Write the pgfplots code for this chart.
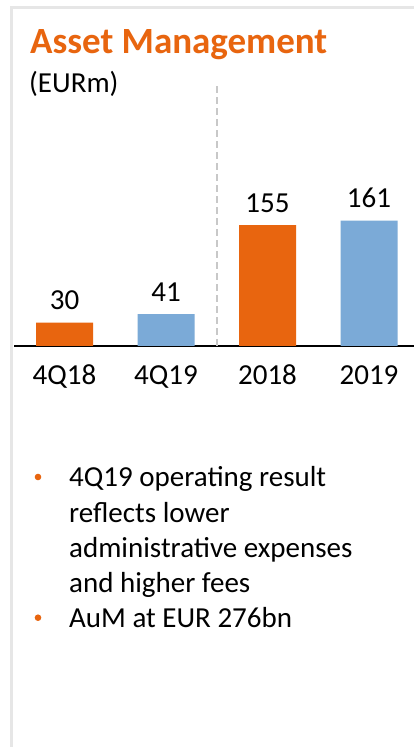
\documentclass[border=0pt]{standalone}
\usepackage{fontspec}
\setmainfont{Carlito}
\usepackage{pgfplots}
\pgfplotsset{compat=1.18}

\definecolor{amorange}{HTML}{E8650F}
\definecolor{amblue}{HTML}{7BAAD7}
\definecolor{framegray}{HTML}{E6E6E6}
\definecolor{dashgray}{HTML}{C8C8C8}

\newcommand{\bodyfont}{\fontsize{29bp}{35bp}\selectfont}

\begin{document}
\begin{tikzpicture}
\useasboundingbox (0,0) rectangle (414bp,747bp);
\fill[white] (0,0) rectangle (414bp,747bp);
% panel frame
\draw[framegray, line width=3bp] (11.5bp,0bp) -- (11.5bp,739.5bp) -- (414bp,739.5bp);

% heading
\node[anchor=base west, inner sep=0, text=amorange,
      font=\fontsize{37bp}{44bp}\selectfont\bfseries] at (30bp,693.5bp) {Asset Management};
\node[anchor=base west, inner sep=0, font=\bodyfont] at (29bp,654.3bp) {(EURm)};

\begin{axis}[
    at={(14bp,401bp)}, anchor=south west,
    scale only axis, width=400bp, height=261bp,
    xmin=-0.4975, xmax=3.443, ymin=0, ymax=335,
    axis x line*=bottom, axis y line=none,
    x axis line style={black, line width=2bp, -},
    ytick=\empty,
    xtick={0,1,2,3},
    xticklabels={4Q18,4Q19,2018,2019},
    major tick length=0pt,
    xticklabel style={anchor=base, yshift=-39bp, font=\bodyfont},
    /pgf/number format/assume math mode=true,
    ybar, bar width=57bp, bar shift=0pt,
    nodes near coords,
    every node near coord/.append style={anchor=base, yshift=13bp, font=\bodyfont, black},
    clip=false,
]
\addplot[draw=none, fill=amorange] coordinates {(0,30) (2,155)};
\addplot[draw=none, fill=amblue] coordinates {(1,41) (3,161)};
\draw[dashgray, line width=1.5bp, dash pattern=on 7bp off 4bp]
    (axis cs:1.5,0) -- (axis cs:1.5,335);
\end{axis}

% bullet notes
\fill[amorange] (38bp,270bp) circle (3.3bp);
\fill[amorange] (38bp,129.3bp) circle (3.3bp);
\node[anchor=base west, inner sep=0, font=\bodyfont] at (69bp,260.3bp) {4Q19 operating result};
\node[anchor=base west, inner sep=0, font=\bodyfont] at (69bp,224.3bp) {reflects lower};
\node[anchor=base west, inner sep=0, font=\bodyfont] at (69bp,189bp) {administrative expenses};
\node[anchor=base west, inner sep=0, font=\bodyfont] at (69bp,154bp) {and higher fees};
\node[anchor=base west, inner sep=0, font=\bodyfont] at (69bp,119bp) {AuM at EUR 276bn};
\end{tikzpicture}
\end{document}
